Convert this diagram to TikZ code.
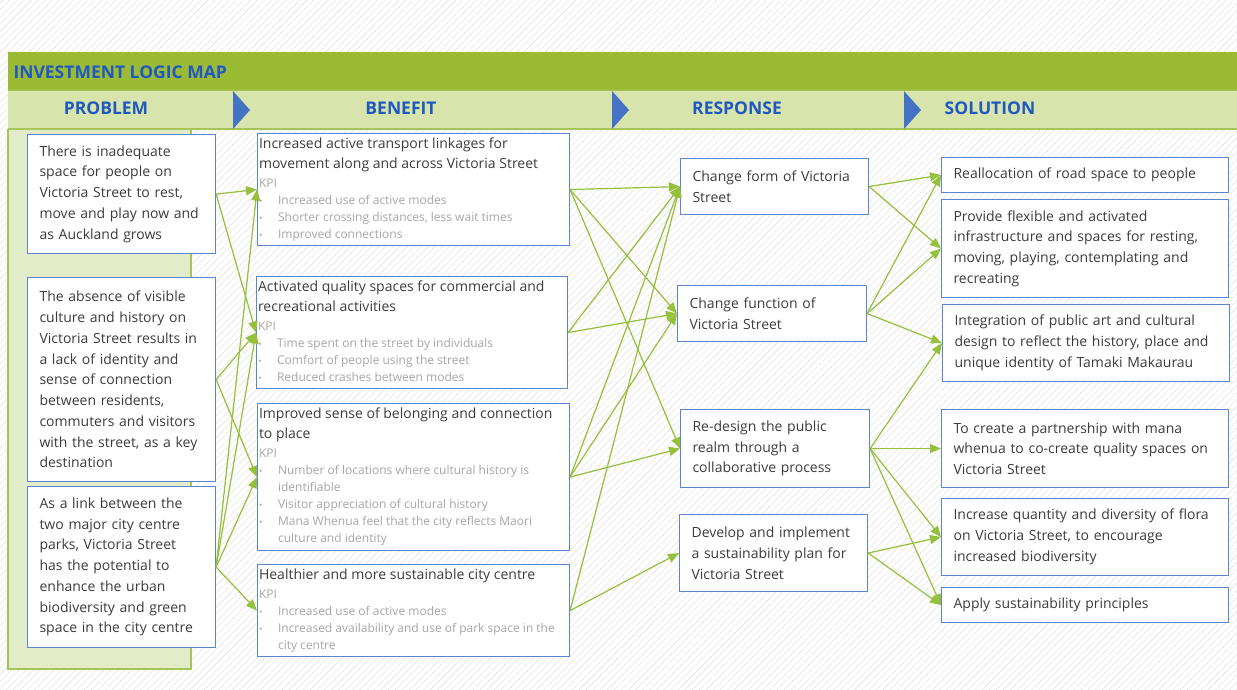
\documentclass[tikz,border=0pt]{standalone}
\usepackage{fontspec}
\setmainfont{Open Sans}
\usepackage{tikz}
\usetikzlibrary{arrows.meta, patterns.meta, positioning}

\definecolor{barGreen}{HTML}{9BBB34}
\definecolor{headGreen}{HTML}{D7E4AB}
\definecolor{panelGreen}{HTML}{E3ECC8}
\definecolor{edgeGreen}{HTML}{A5C55A}
\definecolor{linkGreen}{HTML}{96C03C}
\definecolor{chevBlue}{HTML}{4472C4}
\definecolor{titleBlue}{HTML}{1F58C2}
\definecolor{boxBlue}{HTML}{5B85D0}
\definecolor{bodyGray}{HTML}{3C3C3C}
\definecolor{kpiGray}{HTML}{A6A6A6}

% KPI block inside a benefit box
\newcommand{\kpi}{\par\vspace{2pt}\fontsize{12}{17}\selectfont\color{kpiGray}\noindent KPI}
\newcommand{\kpiitem}[1]{\par\hangindent=19pt\hangafter=1\noindent
  \makebox[19pt][l]{\fontsize{9}{9}\selectfont\textbullet}#1}

\begin{document}
\begin{tikzpicture}[x=1pt, y=-1pt,% one unit = one pixel, y downwards
           > = {Triangle[length=11pt, width=9pt]},
  link/.style = {->, draw=linkGreen, fill=linkGreen, line width=1.2pt},
  card/.style = {draw=boxBlue, line width=1.1pt, fill=white,
                 anchor=north west, inner xsep=12pt, inner ysep=0pt,
                 text width=#1, align=left, text=bodyGray,
                 font=\fontsize{14}{20.75}\selectfont},
benefit/.style = {draw=boxBlue, line width=1.1pt, fill=white,
                 anchor=north west, inner xsep=1.5pt, inner ysep=0pt,
                 text=bodyGray, font=\fontsize{14}{19.5}\selectfont},
  head/.style = {font=\fontsize{17.5}{17.5}\selectfont\bfseries, text=titleBlue}
                    ]
	\useasboundingbox (0,0) rectangle (1237,689);
	
	% hatched page
	\fill[white] (0,0) rectangle (1237,689);
	\fill[pattern={Lines[angle=45, distance=5pt, line width=0.6pt]},
	      pattern color=gray!20] (0,0) rectangle (1237,689);
	
	% title bar, header row and problem panel
	\fill[barGreen] (8,52) rectangle (1237,90);
	\fill[headGreen] (8,90) rectangle (1237,129);
	\draw[edgeGreen, line width=1pt] (8,90) -- (1237,90);
	\fill[panelGreen] (8,129) rectangle (191,669);
	\draw[edgeGreen, line width=1.2pt] (8,129) -- (8,669) -- (191,669) -- (191,129);
	\draw[edgeGreen, line width=2pt] (8,129) -- (1237,129);
	\foreach \cx in {233, 612, 904}
		\fill[chevBlue] (\cx,91) -- (\cx+17,110) -- (\cx,129) -- cycle;
	
	\node[head, anchor=west] (ilm) at (10,72) {INVESTMENT LOGIC MAP};
	\node[head] (hprob) at (106,108) {PROBLEM};
	\node[head] (hben)  at (401,108) {BENEFIT};
	\node[head] (hres)  at (737,108) {RESPONSE};
	\node[head] (hsol)  at (990,108) {SOLUTION};
	
	% problems
	\node[card=164pt, minimum height=119] (p1) at (27,134)
		{There is inadequate\\ space for people on\\ Victoria Street to rest,\\ move and play now and\\ as Auckland grows};
	\node[card=164pt, minimum height=204] (p2) at (27,277)
		{The absence of visible\\ culture and history on\\ Victoria Street results in\\ a lack of identity and\\ sense of connection\\ between residents,\\ commuters and visitors\\ with the street, as a key\\ destination};
	\node[card=164pt, minimum height=161] (p3) at (27,486)
		{As a link between the\\ two major city centre\\ parks, Victoria Street\\ has the potential to\\ enhance the urban\\ biodiversity and green\\ space in the city centre};
	
	% benefits with their KPIs
	\node[benefit] (b1) at (257,133) {\parbox[t][112pt][t]{309pt}{\raggedright\rule{0pt}{15pt}%
		Increased active transport linkages for\\ movement along and across Victoria Street
		\kpi
		\kpiitem{Increased use of active modes}
		\kpiitem{Shorter crossing distances, less wait times}
		\kpiitem{Improved connections}}};
	\node[benefit] (b2) at (256,276) {\parbox[t][112pt][t]{308pt}{\raggedright\rule{0pt}{15pt}%
		Activated quality spaces for commercial and\\ recreational activities
		\kpi
		\kpiitem{Time spent on the street by individuals}
		\kpiitem{Comfort of people using the street}
		\kpiitem{Reduced crashes between modes}}};
	\node[benefit] (b3) at (257,403) {\parbox[t][147pt][t]{309pt}{\raggedright\rule{0pt}{15pt}%
		Improved sense of belonging and connection\\ to place
		\kpi
		\kpiitem{Number of locations where cultural history is\newline identifiable}
		\kpiitem{Visitor appreciation of cultural history}
		\kpiitem{Mana Whenua feel that the city reflects Maori\newline culture and identity}}};
	\node[benefit] (b4) at (257,564) {\parbox[t][92pt][t]{309pt}{\raggedright\rule{0pt}{15pt}%
		Healthier and more sustainable city centre
		\kpi
		\kpiitem{Increased use of active modes}
		\kpiitem{Increased availability and use of park space in the\newline city centre}}};
	
	% responses
	\node[card=164pt, minimum height=56] (r1) at (680,158) {Change form of Victoria\\ Street};
	\node[card=165pt, minimum height=56] (r2) at (677,285) {Change function of\\ Victoria Street};
	\node[card=165pt, minimum height=78] (r3) at (680,409) {Re-design the public\\ realm through a\\ collaborative process};
	\node[card=164pt, minimum height=77] (r4) at (679,514) {Develop and implement\\ a sustainability plan for\\ Victoria Street};
	
	% solutions
	\node[card=263pt, minimum height=35] (s1) at (941,157) {Reallocation of road space to people};
	\node[card=263pt, minimum height=98] (s2) at (941,199)
		{Provide flexible and activated\\ infrastructure and spaces for resting,\\ moving, playing, contemplating and\\ recreating};
	\node[card=263pt, minimum height=77] (s3) at (942,304)
		{Integration of public art and cultural\\ design to reflect the history, place and\\ unique identity of Tamaki Makaurau};
	\node[card=263pt, minimum height=78] (s4) at (941,409)
		{To create a partnership with mana\\ whenua to co-create quality spaces on\\ Victoria Street};
	\node[card=263pt, minimum height=77] (s5) at (941,498)
		{Increase quantity and diversity of flora\\ on Victoria Street, to encourage\\ increased biodiversity};
	\node[card=263pt, minimum height=35] (s6) at (941,587) {Apply sustainability principles};
	
	% logic links
	\foreach \a/\b in {p1/b1, p1/b2, p2/b2, p2/b3, p3/b1, p3/b2, p3/b3, p3/b4,
	                   b1/r1, b1/r2, b1/r3, b2/r1, b2/r2, b3/r1, b3/r2, b3/r3, b4/r1, b4/r4,
	                   r1/s1, r1/s2, r2/s1, r2/s2, r2/s3, r3/s3, r3/s4, r3/s5, r3/s6, r4/s5, r4/s6}
		\draw[link] (\a.east) -- (\b.west);
\end{tikzpicture}
\end{document}
